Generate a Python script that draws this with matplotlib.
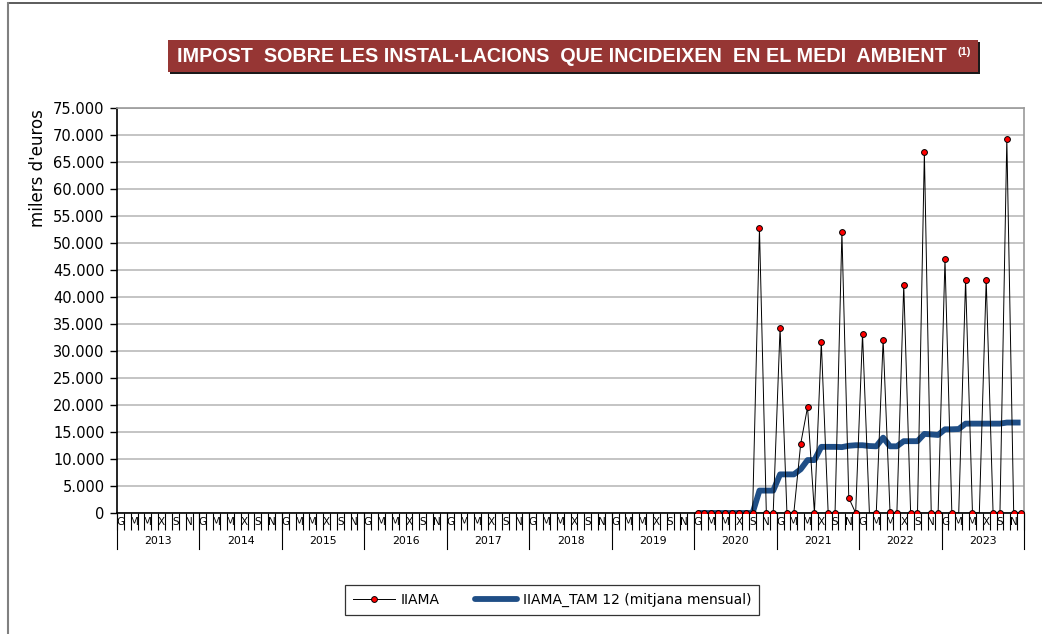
import numpy as np
import matplotlib
matplotlib.use("Agg")
import matplotlib.pyplot as plt
from matplotlib.lines import Line2D
from matplotlib.patches import Rectangle
from matplotlib.ticker import FuncFormatter

# months G M M X S N labelled (every other month), years 2013-2023
years = [str(y) for y in range(2013, 2024)]
month_labels = ["G", "", "M", "", "M", "", "X", "", "S", "", "N", ""]

# IIAMA, thousand euros, Jan 2020 - Dec 2023 (nothing before 2020)
iiama_2020 = [0, 0, 0, 0, 0, 0, 0, 0, 0, 52700, 0, 0]
iiama_2021 = [34300, 0, 0, 12800, 19600, 0, 31600, 0, 0, 52000, 2800, 0]
iiama_2022 = [33200, 0, 0, 32100, 200, 0, 42300, 0, 0, 66800, 0, 0]
iiama_2023 = [47000, 0, 0, 43200, 0, 0, 43200, 0, 0, 69300, 0, 0]

# TAM 12 (monthly average of the last 12 months)
tam_2020 = [0, 0, 0, 0, 0, 0, 0, 0, 0, 4150, 4150, 4150]
tam_2021 = [7150, 7150, 7150, 8100, 9800, 9800, 12250, 12250, 12250, 12200, 12450, 12550]
tam_2022 = [12550, 12400, 12350, 13950, 12350, 12350, 13300, 13300, 13300, 14650, 14550, 14450]
tam_2023 = [15500, 15500, 15550, 16550, 16550, 16550, 16550, 16550, 16550, 16750, 16750, 16750]

# months (from Jan 2020) drawn without marker in the original
no_marker = [25, 38, 41]

n_months = 12 * len(years)
pad = [np.nan] * (n_months - 48)
iiama = np.array(pad + iiama_2020 + iiama_2021 + iiama_2022 + iiama_2023, dtype=float)
tam = np.array(pad + tam_2020 + tam_2021 + tam_2022 + tam_2023, dtype=float)
x = np.arange(n_months) + 0.5
start = n_months - 48
marks = [i for i in range(start, n_months) if (i - start) not in no_marker]

fig = plt.figure(figsize=(10.42, 6.34), dpi=100)
ax = fig.add_axes([117 / 1042, 1 - 513 / 634, (1024 - 117) / 1042, 405 / 634])

ax.plot(x, iiama, color="black", lw=0.7, marker="o", ms=4.2, mfc="#ff0000",
        mec="black", mew=0.7, markevery=marks, zorder=4)
ax.plot(x, tam, color="#1f4e86", lw=4.2, solid_capstyle="butt", zorder=3)

ax.set_xlim(0, n_months)
ax.set_ylim(0, 75000)
ax.set_yticks(np.arange(0, 75001, 5000))
ax.yaxis.set_major_formatter(FuncFormatter(lambda v, p: f"{int(v):,}".replace(",", ".")))
ax.tick_params(axis="y", labelsize=10.5, length=5, width=1, direction="out", pad=4)
ax.grid(axis="y", color="#bfbfbf", lw=1.3)
ax.set_axisbelow(True)

# month ticks at every boundary, labels at category centres
ax.set_xticks(np.arange(0, n_months + 1), minor=True)
ax.set_xticks(x)
ax.set_xticklabels(month_labels * len(years))
ax.tick_params(axis="x", which="major", length=0, labelsize=7.5, pad=3)
ax.tick_params(axis="x", which="minor", length=12, width=0.8, direction="out")

for s in ["left", "bottom"]:
    ax.spines[s].set_color("black")
    ax.spines[s].set_linewidth(1.2)
for s in ["top", "right"]:
    ax.spines[s].set_color("#9a9a9a")
    ax.spines[s].set_linewidth(1.2)

# year level of the category axis
trans = ax.get_xaxis_transform()
for k, yr in enumerate(years):
    ax.text(12 * k + 6, -0.069, yr, transform=trans, ha="center", va="center", fontsize=7.8)
for k in range(len(years) + 1):
    ax.plot([12 * k, 12 * k], [0, -0.088], transform=trans, color="black", lw=0.8, clip_on=False)

fig.text(38 / 1042, 1 - 168 / 634, "milers d'euros", rotation=90, ha="center", va="center", fontsize=12)

# title banner
fig.patches.append(Rectangle((170 / 1042, 1 - 74 / 634), 810 / 1042, 32 / 634,
                             transform=fig.transFigure, facecolor="#1a1a1a", edgecolor="none", zorder=1))
fig.patches.append(Rectangle((168 / 1042, 1 - 72 / 634), 810 / 1042, 32 / 634,
                             transform=fig.transFigure, facecolor="#963634", edgecolor="none", zorder=2))
fig.text(562 / 1042, 1 - 57 / 634, "IMPOST  SOBRE LES INSTAL·LACIONS  QUE INCIDEIXEN  EN EL MEDI  AMBIENT",
         ha="center", va="center", color="white", fontsize=14.2, fontweight="bold",
         family=["Liberation Sans Narrow", "Liberation Sans"], zorder=3)
fig.text(964 / 1042, 1 - 52 / 634, "(1)", ha="center", va="center", color="white", fontsize=8,
         fontweight="bold", family=["Liberation Sans Narrow", "Liberation Sans"], zorder=3)

# outer chart frame
fig.add_artist(Line2D([8 / 1042, 1], [1 - 3 / 634, 1 - 3 / 634], transform=fig.transFigure, color="#404040", lw=1.2))
fig.add_artist(Line2D([8 / 1042, 8 / 1042], [0, 1 - 3 / 634], transform=fig.transFigure, color="#808080", lw=1.5))

handles = [
    Line2D([], [], color="black", lw=0.7, marker="o", ms=4.2, mfc="#ff0000", mec="black", mew=0.7),
    Line2D([], [], color="#1f4e86", lw=4.2, solid_capstyle="round"),
]
leg = fig.legend(handles, ["IIAMA", "IIAMA_TAM 12 (mitjana mensual)"], loc="center",
                 bbox_to_anchor=(552 / 1042, 1 - 600 / 634), ncol=2, fontsize=10,
                 frameon=True, fancybox=False, edgecolor="black", handlelength=3.0,
                 handletextpad=0.4, columnspacing=2.6, borderpad=0.55, borderaxespad=0)
leg.get_frame().set_linewidth(0.9)

fig.savefig("out.png", dpi=100)
